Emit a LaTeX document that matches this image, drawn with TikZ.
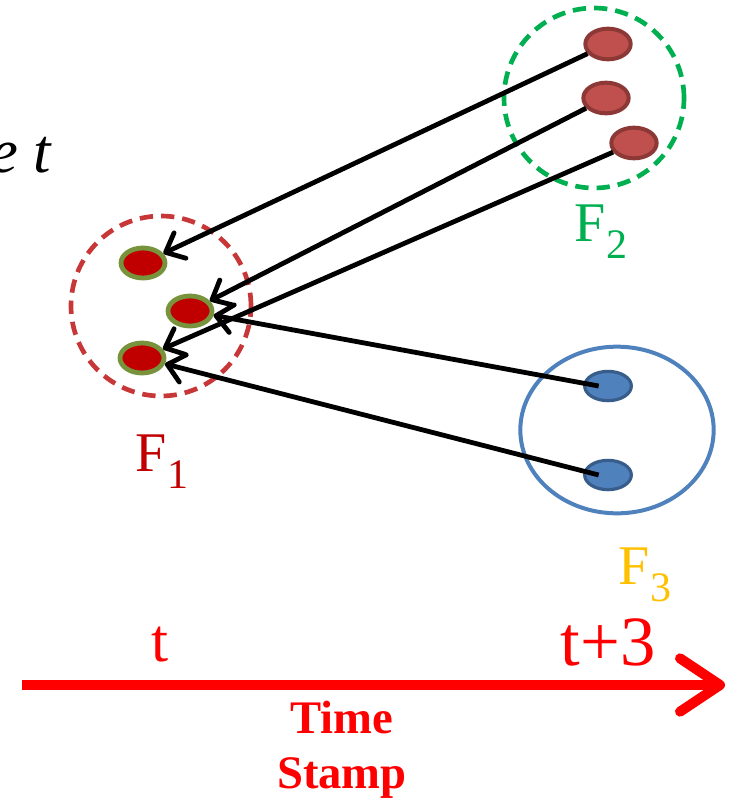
\documentclass[tikz,border=0pt]{standalone}
\usepackage{fontspec}
\setmainfont{Liberation Serif}
\usetikzlibrary{arrows.meta,shapes.geometric}
\definecolor{fonering}{HTML}{C83737}
\definecolor{fonefill}{HTML}{C00000}
\definecolor{foneedge}{HTML}{77933C}
\definecolor{ftwogreen}{HTML}{00B050}
\definecolor{ftwofill}{HTML}{C0504D}
\definecolor{ftwoedge}{HTML}{8C3836}
\definecolor{fthreeblue}{HTML}{4F81BD}
\definecolor{fthreeedge}{HTML}{385D8A}
\definecolor{fthreegold}{HTML}{FFC000}
\newcommand\lowidx[1]{\raisebox{-0.3em}{\scalebox{0.75}{#1}}}

\begin{document}
\begin{tikzpicture}[x=0.75pt,y=-0.75pt,
  >={Straight Barb[length=12pt,width=21pt,line cap=round,line join=round]},
  dotone/.style={ellipse,draw=foneedge,fill=fonefill,line width=3.6pt,minimum width=33pt,minimum height=22.5pt,inner sep=0pt},
  dottwo/.style={ellipse,draw=ftwoedge,fill=ftwofill,line width=3pt,minimum width=34pt,minimum height=23pt,inner sep=0pt},
  dotthree/.style={ellipse,draw=fthreeedge,fill=fthreeblue,line width=2.4pt,minimum width=35pt,minimum height=22pt,inner sep=0pt},
  ring/.style={circle,line width=3.5pt,dash pattern=on 10pt off 6pt,minimum size=135pt,inner sep=0pt},
  link/.style={->,line width=3.6pt},
  big/.style={font=\fontsize{42}{48}\selectfont}]
\useasboundingbox (0,0) rectangle (734,810);
\node[font=\fontsize{47}{52}\selectfont,anchor=base east] (timet) at (57,172) {\textit{e t}};
\node[ring,draw=fonering] (fone) at (161,306) {};
\node[ring,draw=ftwogreen] (ftwo) at (594,98) {};
\node[ellipse,draw=fthreeblue,line width=3pt,minimum width=145pt,minimum height=125pt,inner sep=0pt] (fthree) at (617,430) {};
\node[dotone] (onea) at (143,263) {};
\node[dotone] (oneb) at (190,311) {};
\node[dotone] (onec) at (142,358) {};
\node[dottwo] (twoa) at (608,44) {};
\node[dottwo] (twob) at (606,98) {};
\node[dottwo] (twoc) at (634,143) {};
\node[dotthree] (threea) at (608,386) {};
\node[dotthree] (threeb) at (608,475) {};
\draw[link] (twoa) -- (onea);
\draw[link] (twob) -- (oneb);
\draw[link] (twoc) -- (onec);
\draw[link] ([xshift=-7pt]threea.center) -- (oneb);
\draw[link] ([xshift=-7pt]threeb.center) -- (onec);
\node[big,text=fonefill] (fonelab) at (162,462) {F\lowidx{1}};
\node[big,text=ftwogreen] (ftwolab) at (601,232) {F\lowidx{2}};
\node[big,text=fthreegold] (fthreelab) at (645,575) {F\lowidx{3}};
\coordinate (tstart) at (22,685);
\coordinate (tend) at (725,685);
\draw[-{Straight Barb[length=30pt,width=40pt,line cap=round,line join=round]},line width=7.5pt,red] (tstart) -- (tend);
\node[red,font=\fontsize{46}{52}\selectfont] (tnow) at (160,645) {t};
\node[red,font=\fontsize{53}{60}\selectfont] (tlater) at (608,642) {t+3};
\node[red,font=\bfseries\fontsize{35}{40}\selectfont] (time) at (342,718) {Time};
\node[red,font=\bfseries\fontsize{35}{40}\selectfont] (stamp) at (342,778) {Stamp};
\end{tikzpicture}
\end{document}
